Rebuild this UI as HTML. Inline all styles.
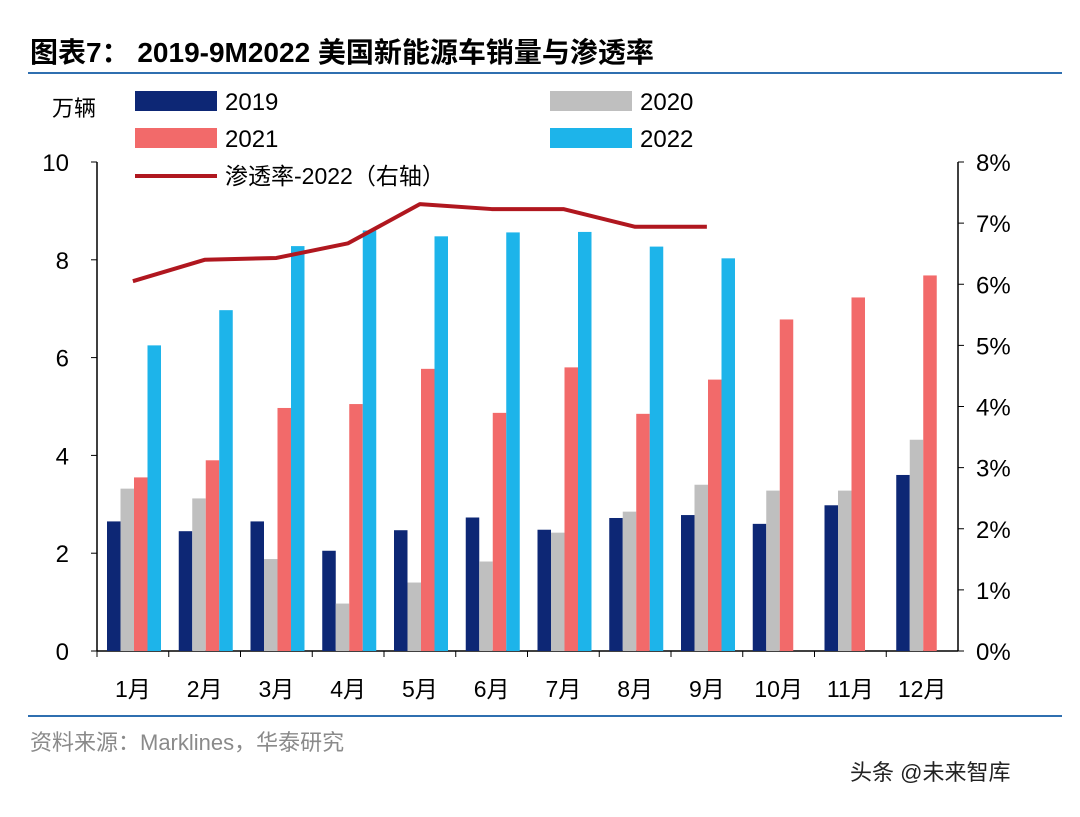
<!DOCTYPE html>
<html><head><meta charset="utf-8"><style>
body{margin:0;background:#fff;width:1080px;height:812px;overflow:hidden;font-family:"Liberation Sans","Noto Sans CJK SC",sans-serif;}
</style></head><body>
<svg width="1080" height="812" xmlns="http://www.w3.org/2000/svg">
<text x="30" y="62" font-size="28" font-weight="bold" fill="#000" font-family="Liberation Sans,Noto Sans CJK SC,sans-serif">图表7： 2019-9M2022 美国新能源车销量与渗透率</text>
<line x1="28" y1="73" x2="1062" y2="73" stroke="#2f6fb0" stroke-width="2"/>
<text x="52" y="116" font-size="22" fill="#000">万辆</text>
<g id="legend"></g>
<g id="axes"></g>
<g id="bars"></g>
<g id="line"></g>
<line x1="28" y1="716" x2="1062" y2="716" stroke="#2f6fb0" stroke-width="2"/>
<text x="30" y="750" font-size="22" fill="#8a8a8a">资料来源：Marklines，华泰研究</text>
<text x="850" y="780" font-size="22" fill="#222">头条 @未来智库</text>
</svg>
<script>
const months=["1月","2月","3月","4月","5月","6月","7月","8月","9月","10月","11月","12月"];
const s2019=[2.65,2.45,2.65,2.05,2.47,2.73,2.48,2.72,2.78,2.6,2.98,3.6];
const s2020=[3.32,3.12,1.88,0.97,1.4,1.83,2.42,2.85,3.4,3.28,3.28,4.32];
const s2021=[3.55,3.9,4.97,5.05,5.77,4.87,5.8,4.85,5.55,6.78,7.23,7.68];
const s2022=[6.25,6.97,8.28,8.6,8.48,8.56,8.57,8.27,8.03];
const pen2022=[6.05,6.4,6.43,6.67,7.31,7.23,7.23,6.94,6.94];
const leftTicks=[0,2,4,6,8,10];
const rightTicks=[0,1,2,3,4,5,6,7,8];
const NS="http://www.w3.org/2000/svg";
const X0=97,X1=958,Y0=651,Y1=162;
const slot=(X1-X0)/months.length;
const yL=v=>Y0-(v/10)*(Y0-Y1);
const yR=v=>Y0-(v/8)*(Y0-Y1);
const xs=i=>X0+slot*i;
function mk(t,a,p){const e=document.createElementNS(NS,t);for(const k in a)e.setAttribute(k,a[k]);p.appendChild(e);return e;}
const ax=document.getElementById('axes');
let e=mk('line',{x1:X0,y1:Y1,x2:X0,y2:Y0,stroke:'#000','stroke-width':1.5},ax);


e=mk('line',{x1:X1,y1:Y1,x2:X1,y2:Y0,stroke:'#000','stroke-width':1.5},ax);


e=mk('line',{x1:X0,y1:Y0,x2:X1,y2:Y0,stroke:'#000','stroke-width':1.5},ax);


leftTicks.forEach(v=>{
 mk('line',{x1:X0-6,y1:yL(v),x2:X0,y2:yL(v),stroke:'#000'},ax);
 const t=mk('text',{x:X0-28,y:yL(v)+9,'font-size':24,'text-anchor':'end'},ax);t.textContent=v;
 
 
});
rightTicks.forEach(v=>{
 mk('line',{x1:X1,y1:yR(v),x2:X1+6,y2:yR(v),stroke:'#000'},ax);
 const t=mk('text',{x:X1+18,y:yR(v)+9,'font-size':24},ax);t.textContent=v+'%';
 
 
});
months.forEach((m,i)=>{
 mk('line',{x1:xs(i),y1:Y0,x2:xs(i),y2:Y0+6,stroke:'#000'},ax);
 const t=mk('text',{x:xs(i)+slot/2,y:Y0+46,'font-size':23,'text-anchor':'middle'},ax);t.textContent=m;
 
 
});
const series=[[s2019,'#0d2775','bar-2019'],[s2020,'#bfbfbf','bar-2020'],[s2021,'#f26a6a','bar-2021'],[s2022,'#1db4ea','bar-2022']];
const bw=13.5,off=10;
const bg=document.getElementById('bars');
series.forEach(([arr,c,n],k)=>{
 arr.forEach((v,i)=>{
  const r=mk('rect',{x:xs(i)+off+k*bw,y:yL(v),width:bw,height:Y0-yL(v),fill:c},bg);
  
  
 });
});
const lg=document.getElementById('line');
const pts=pen2022.map((v,i)=>(xs(i)+slot/2)+','+yR(v)).join(' ');
const pl=mk('polyline',{points:pts,fill:'none',stroke:'#b0171f','stroke-width':4,'stroke-linejoin':'round'},lg);


const L=document.getElementById('legend');
[[135,91,'#0d2775','2019'],[550,91,'#bfbfbf','2020'],[135,128,'#f26a6a','2021'],[550,128,'#1db4ea','2022']].forEach(([x,y,c,t])=>{
 const r=mk('rect',{x:x,y:y,width:82,height:20,fill:c},L);
 
 
 const tx=mk('text',{x:x+90,y:y+19,'font-size':24},L);tx.textContent=t;
 
 
});
const ll=mk('line',{x1:135,y1:176,x2:217,y2:176,stroke:'#b0171f','stroke-width':4},L);


const lt=mk('text',{x:225,y:184,'font-size':23},L);lt.textContent='渗透率-2022（右轴）';


</script>
</body></html>
